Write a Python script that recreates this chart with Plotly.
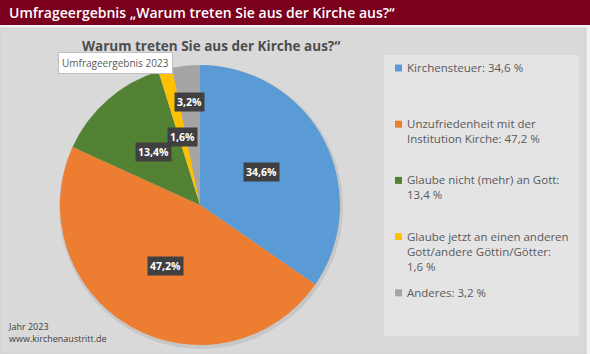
import math
import plotly.graph_objects as go

# ---- data ----
categories = ["Kirchensteuer", "Unzufriedenheit mit der Institution Kirche",
              "Glaube nicht (mehr) an Gott",
              "Glaube jetzt an einen anderen Gott/andere Göttin/Götter", "Anderes"]
legend_texts = ["Kirchensteuer: 34,6 %",
                "Unzufriedenheit mit der<br>Institution Kirche: 47,2 %",
                "Glaube nicht (mehr) an Gott:<br>13,4 %",
                "Glaube jetzt an einen anderen<br>Gott/andere Göttin/Götter:<br>1,6 %",
                "Anderes: 3,2 %"]
values = [34.6, 47.2, 13.4, 1.6, 3.2]
value_labels = ["34,6%", "47,2%", "13,4%", "1,6%", "3,2%"]
colors = ["#5b9bd5", "#ed7d31", "#548235", "#ffc000", "#a5a5a5"]

W, H = 590, 354
FONT = "Open Sans"

# pie geometry (pixels)
cx, cy, R = 200, 205, 140
dom_x = [(cx - R) / W, (cx + R) / W]
dom_y = [1 - (cy + R) / H, 1 - (cy - R) / H]

fig = go.Figure()
fig.add_trace(go.Pie(
    labels=categories, values=values, sort=False, direction="clockwise",
    rotation=0, marker=dict(colors=colors, line=dict(width=0)),
    textinfo="none", hoverinfo="label+percent", showlegend=False,
    domain=dict(x=dom_x, y=dom_y)))

shapes = []
annotations = []
# background panels
shapes.append(dict(type="rect", xref="paper", yref="paper", x0=0, x1=1,
                   y0=1 - 25 / H, y1=1, fillcolor="#7a001e", line=dict(width=0), layer="below"))
shapes.append(dict(type="rect", xref="paper", yref="paper", x0=0, x1=586 / W,
                   y0=0, y1=1 - 28 / H, fillcolor="#d9d9d9",
                   line=dict(color="#cfcfcf", width=1), layer="below"))
# soft shadow under pie
shapes.append(dict(type="circle", xref="paper", yref="paper",
                   x0=(cx - R - 1) / W, x1=(cx + R + 3) / W,
                   y0=1 - (cy + R + 4) / H, y1=1 - (cy - R) / H,
                   fillcolor="rgba(160,160,160,0.3)", line=dict(width=0), layer="below"))
# legend box
shapes.append(dict(type="rect", xref="paper", yref="paper", x0=384 / W, x1=579 / W,
                   y0=1 - 336 / H, y1=1 - 55 / H, fillcolor="#e4e4e4",
                   line=dict(width=0), layer="below"))

# header title
annotations.append(dict(text="Umfrageergebnis „Warum treten Sie aus der Kirche aus?“",
                        xref="paper", yref="paper", x=7 / W, y=1 - 12.5 / H,
                        xanchor="left", yanchor="middle", showarrow=False,
                        font=dict(family=FONT, size=14, color="white", weight=600)))
# chart title
annotations.append(dict(text="Warum treten Sie aus der Kirche aus?“",
                        xref="paper", yref="paper", x=211 / W, y=1 - 46 / H,
                        xanchor="center", yanchor="middle", showarrow=False,
                        font=dict(family=FONT, size=13.5, color="#4d4d4d", weight=700)))
# white tag box
annotations.append(dict(text="Umfrageergebnis 2023",
                        xref="paper", yref="paper", x=58 / W, y=1 - 62.5 / H,
                        xanchor="left", yanchor="middle", showarrow=False,
                        bgcolor="white", bordercolor="#bfbfbf", borderwidth=1, borderpad=3,
                        font=dict(family=FONT, size=10, color="#595959")))
# footer
annotations.append(dict(text="Jahr 2023<br>www.kirchenaustritt.de",
                        xref="paper", yref="paper", x=6 / W, y=1 - 332 / H,
                        xanchor="left", yanchor="middle", align="left", showarrow=False,
                        font=dict(family=FONT, size=9, color="#404040")))

# data labels computed from slice angles
label_r = [0.5, 0.5, 0.5, 0.5, 0.74]
total = sum(values)
cum = 0.0
for v, lab, rf in zip(values, value_labels, label_r):
    mid = (cum + v / 2) / total * 2 * math.pi
    cum += v
    px = cx + rf * R * math.sin(mid)
    py = cy - rf * R * math.cos(mid)
    annotations.append(dict(text=lab, xref="paper", yref="paper", x=px / W, y=1 - py / H,
                            xanchor="center", yanchor="middle", showarrow=False,
                            bgcolor="#404040", borderpad=2,
                            font=dict(family=FONT, size=10.5, color="white", weight=700)))

# legend (manual, evenly spaced like the original)
leg_y0, leg_step = 68, 56.2
for i, (t, c) in enumerate(zip(legend_texts, colors)):
    y = leg_y0 + i * leg_step
    shapes.append(dict(type="rect", xref="paper", yref="paper",
                       x0=395 / W, x1=402 / W, y0=1 - (y + 3.5) / H, y1=1 - (y - 3.5) / H,
                       fillcolor=c, line=dict(width=0)))
    annotations.append(dict(text=t, xref="paper", yref="paper", x=406 / W, y=1 - (y - 9) / H,
                            xanchor="left", yanchor="top", align="left", showarrow=False,
                            borderpad=0,
                            font=dict(family=FONT, size=11.5, color="#595959")))

fig.update_layout(width=W, height=H, margin=dict(l=0, r=0, t=0, b=0),
                  paper_bgcolor="#f2f2f2", plot_bgcolor="rgba(0,0,0,0)",
                  shapes=shapes, annotations=annotations, showlegend=False)
fig.write_html("out.html")
